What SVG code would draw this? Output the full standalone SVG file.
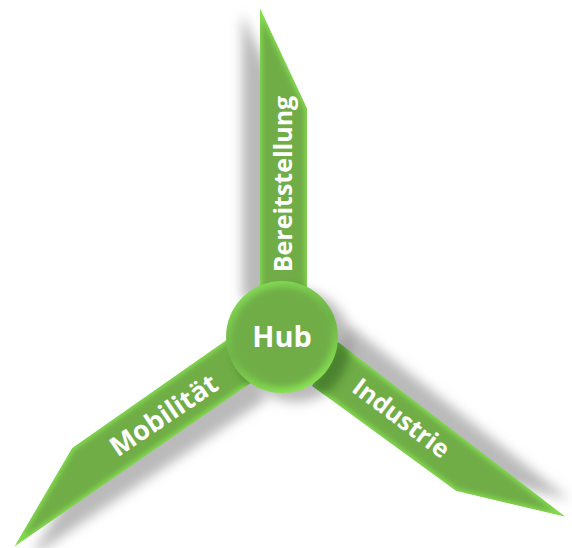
<svg xmlns="http://www.w3.org/2000/svg" width="572" height="548" viewBox="0 0 572 548">
<defs>
<filter id="bevel" x="-10%" y="-10%" width="120%" height="120%" color-interpolation-filters="sRGB">
<feFlood flood-color="#84dc50" result="edge"/>
<feComposite in="edge" in2="SourceAlpha" operator="in" result="edgeShape"/>
<feMorphology in="SourceAlpha" operator="erode" radius="2" result="er"/>
<feGaussianBlur in="er" stdDeviation="2.4" result="bl"/>
<feFlood flood-color="#70ad47"/>
<feComposite in2="bl" operator="in" result="core"/>
<feMerge><feMergeNode in="edgeShape"/><feMergeNode in="core"/></feMerge>
<feComposite in2="SourceAlpha" operator="in"/>
</filter>
<filter id="shadow" x="-30%" y="-30%" width="160%" height="160%"><feGaussianBlur stdDeviation="6"/></filter>
<filter id="soft" x="-30%" y="-30%" width="160%" height="160%"><feGaussianBlur stdDeviation="5"/></filter>
<filter id="ring" x="-10%" y="-10%" width="120%" height="120%"><feGaussianBlur stdDeviation="3"/></filter>
<clipPath id="bladeClip"><path d="M260 8L307 108V300H260Z"/><path d="M14 547L72 448L232 336L258 378Z"/><path d="M566 517L456 491L312 386L338 342Z"/></clipPath>
<linearGradient id="hubEdge" x1="0.3" y1="0" x2="0.7" y2="1"><stop offset="0" stop-color="#84dc55"/><stop offset="0.5" stop-color="#6fb548"/><stop offset="1" stop-color="#8ae854"/></linearGradient>
</defs>
<style>
.blade{fill:#70ad47;filter:url(#bevel)}
.sh{fill:#8c8c8c;fill-opacity:.6;filter:url(#shadow)}
text{font-family:"Open Sans","Noto Sans","Liberation Sans",sans-serif;font-weight:700;fill:#fff;text-anchor:middle}
.l{font-size:25px}
</style>
<g id="connectors">
<g id="shadows">
<path class="sh" d="M242 14L286 108V300H242Z"/>
<path class="sh" d="M30 558L88 464L240 358L268 398Z"/>
<path class="sh" d="M570 500L460 472L326 366L350 326Z"/>
<circle class="sh" cx="296" cy="346" r="56"/>
</g>
</g>
<g id="blade-bereitstellung">
<path class="blade" d="M260 8L307 108V300H260Z"/>
<text class="l" transform="translate(292 184) rotate(-90)">Bereitstellung</text>
</g>
<g id="blade-mobilitaet">
<path class="blade" d="M14 547L72 448L232 336L258 378Z"/>
<text class="l" font-size="27" style="font-size:27px" transform="translate(169 423) rotate(-34)">Mobilität</text>
</g>
<g id="blade-industrie">
<path class="blade" d="M566 517L456 491L312 386L338 342Z"/>
<text class="l" transform="translate(396 425) rotate(37)">Industrie</text>
</g>
<g clip-path="url(#bladeClip)"><circle cx="292" cy="346" r="58" fill="#33661f" fill-opacity=".6" filter="url(#soft)"/></g>
<g id="hub">
<circle cx="282" cy="337" r="56" fill="url(#hubEdge)"/>
<circle cx="282" cy="337" r="50" fill="#70ad47" filter="url(#ring)"/>
<text x="282" y="347" font-size="29">Hub</text>
</g>
</svg>
